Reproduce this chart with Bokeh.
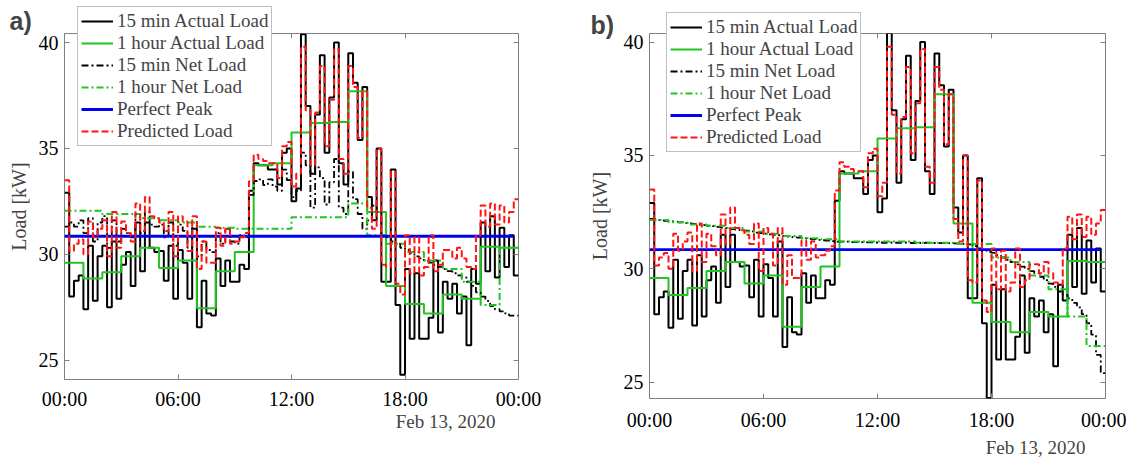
from bokeh.plotting import figure
from bokeh.layouts import row
from bokeh.models import FixedTicker, Label, Legend, LegendItem, LinearAxis, Range1d
from bokeh.embed import file_html
from bokeh.resources import INLINE

# ---------------- data ----------------
x_ticks = [0, 6, 12, 18, 24]
x_tick_labels = ["00:00", "06:00", "12:00", "18:00", "00:00"]
y_ticks = [25, 30, 35, 40]
date_label = "Feb 13, 2020"
legend_labels = ["15 min Actual Load", "1 hour Actual Load", "15 min Net Load",
                 "1 hour Net Load", "Perfect Peak", "Predicted Load"]

actual_15min = [
    32.9, 28.0, 28.75, 29.0,   27.4, 30.4, 27.8, 29.9,   30.4, 27.5, 30.6, 27.9,
    29.5, 30.1, 28.5, 31.5,    29.2, 31.5, 30.3, 30.1,   30.15, 28.75, 30.4, 27.9,
    30.2, 29.6, 27.9, 31.2,    26.55, 28.75, 27.2, 27.1, 29.8, 28.5, 29.7, 28.7,
    28.7, 29.5, 29.3, 33.0,    34.3, 34.2, 34.2, 34.0,   34.0, 33.3, 34.8, 35.0,
    32.5, 33.1, 40.4, 37.0,    33.8, 36.6, 39.4, 34.8,   37.4, 40.0, 34.3, 33.3,
    39.5, 38.1, 35.4, 37.9,    32.7, 31.6, 35.0, 28.7,   28.7, 34.0, 27.6, 24.3,
    29.3, 26.0, 29.1, 26.0,    26.0, 27.0, 29.7, 26.3,   28.7, 27.9, 28.6, 27.2,
    28.0, 25.7, 29.3, 28.6,    31.5, 29.2, 31.8, 28.9,   31.25, 29.4, 30.9, 29.0,
]
actual_1hour = [29.6, 28.85, 29.15, 29.9, 30.3, 29.35, 29.7, 27.45, 29.2, 30.1, 34.2, 34.3,
                35.75, 36.2, 36.25, 37.7, 32.0, 28.5, 27.65, 27.2, 28.1, 27.9, 30.35, 30.3]

predicted_15min = [
    33.5, 30.15, 30.5, 30.7,   30.0, 31.55, 30.8, 31.2,  31.6, 29.9, 32.0, 30.3,
    31.55, 31.0, 30.6, 32.4,   31.1, 32.7, 31.8, 31.7,   31.5, 31.1, 32.0, 29.9,
    31.8, 31.55, 30.15, 31.8,  29.3, 30.6, 29.6, 29.6,   31.25, 30.4, 31.2, 30.5,
    30.6, 30.8, 31.0, 33.45,   34.7, 34.5, 34.4, 34.3,   34.3, 33.6, 35.1, 35.3,
    33.2, 33.8, 39.8, 36.8,    34.2, 36.7, 38.9, 35.1,   37.3, 39.7, 34.5, 33.8,
    38.9, 37.9, 35.5, 37.7,    32.2, 31.2, 35.0, 29.5,   29.4, 33.9, 28.6, 28.1,
    30.9, 29.1, 30.8, 29.0,    29.4, 30.9, 29.2, 29.5,   30.2, 30.2, 29.8, 30.3,
    29.8, 29.4, 29.3, 30.9,    32.3, 31.3, 32.4, 31.4,   32.3, 31.5, 32.0, 32.6,
]
perfect_peak = 30.85

# panel a) net load
net_15min_a = [
    31.3, 31.5, 31.3, 31.6,   31.0, 31.7, 30.6, 31.5,   31.8, 30.3, 31.6, 30.6,
    31.2, 31.0, 30.8, 31.9,   31.0, 32.0, 31.4, 31.3,   31.4, 30.8, 31.5, 30.4,
    31.4, 31.1, 30.3, 31.5,   29.9, 30.6, 30.2, 30.1,   31.0, 30.5, 31.2, 30.6,
    30.5, 30.9, 30.8, 32.8,   33.46, 33.54, 33.27, 33.54, 33.2, 33.0, 34.0, 33.5,
    32.7, 33.0, 34.8, 34.2,   32.2, 34.1, 33.6, 32.35,  33.4, 34.5, 32.2, 31.9,
    33.9, 32.6, 31.9, 31.2,   31.6, 32.3, 32.0, 30.9,   30.8, 30.6, 30.5, 30.3,
    30.2, 30.05, 29.9, 29.8,  29.7, 29.6, 29.5, 29.4,   29.3, 29.2, 29.1, 29.0,
    28.9, 28.7, 28.5, 28.2,   28.0, 27.8, 27.55, 27.4,  27.3, 27.2, 27.1, 27.1,
]
net_1hour_a = [32.05, 32.05, 31.9, 31.9, 31.7, 31.6, 31.5, 31.3, 31.25, 31.2, 31.2, 31.2,
               31.75, 31.75, 31.75, 32.4, 30.9, 30.5, 30.1, 29.7, 29.3, 28.7, 27.6, 30.3]

# panel b) net load
net_15min_b = [
    32.2, 32.18, 32.15, 32.12,  32.1, 32.08, 32.05, 32.02,  32.0, 31.98, 31.95, 31.93,
    31.9, 31.88, 31.85, 31.82,  31.8, 31.75, 31.72, 31.7,   31.68, 31.65, 31.6, 31.58,
    31.55, 31.52, 31.5, 31.48,  31.45, 31.42, 31.4, 31.38,  31.35, 31.33, 31.3, 31.28,
    31.26, 31.25, 31.22, 31.2,  31.2, 31.2, 31.18, 31.18,   31.18, 31.17, 31.17, 31.16,
    31.16, 31.15, 31.16, 31.15, 31.15, 31.16, 31.15, 31.14, 31.15, 31.14, 31.15, 31.14,
    31.14, 31.13, 31.14, 31.13, 31.12, 31.12, 31.1, 31.08,  31.0, 30.9, 30.85, 30.75,
    30.7, 30.6, 30.5, 30.4,     30.3, 30.2, 30.1, 30.0,     29.9, 29.8, 29.65, 29.5,
    29.35, 29.2, 29.0, 28.85,   28.7, 28.5, 28.3, 28.0,     27.6, 27.1, 26.2, 25.4,
]
net_1hour_b = [32.15, 32.05, 31.95, 31.9, 31.8, 31.65, 31.55, 31.45, 31.35, 31.3, 31.2, 31.2,
               31.2, 31.2, 31.15, 31.15, 31.1, 31.1, 30.5, 30.3, 29.7, 29.1, 27.9, 26.6]

# ---------------- style ----------------
BLACK = "#000000"
GREEN = "#22c422"
BLUE = "#0000f0"
RED = "#ff1414"
GRAY = "#808080"
SERIF = "Liberation Serif"
STYLES = [
    dict(line_color=BLACK, line_width=2.0),
    dict(line_color=GREEN, line_width=2.0),
    dict(line_color=BLACK, line_width=1.8, line_dash="7 3 2 3"),
    dict(line_color=GREEN, line_width=2.0, line_dash="7 3 2 3"),
    dict(line_color=BLUE, line_width=2.8),
    dict(line_color=RED, line_width=2.0, line_dash="7 3"),
]


def stairs(vals, dt):
    xs = [i * dt for i in range(len(vals) + 1)]
    ys = list(vals) + [vals[-1]]
    return xs, ys


def make_panel(net15, net1h, yr, fw, fh, bl, br, bt, bb, xstand, ystand):
    p = figure(frame_width=fw, frame_height=fh, min_border_left=bl, min_border_right=br,
               min_border_top=bt, min_border_bottom=bb, x_range=Range1d(0, 24),
               y_range=Range1d(*yr), output_backend="svg", toolbar_location=None,
               background_fill_color="white", border_fill_color="white")
    p.grid.visible = False
    p.outline_line_color = GRAY
    p.outline_line_width = 1

    for ax in (p.xaxis[0], p.yaxis[0]):
        ax.axis_line_color = None
        ax.major_tick_in = 5
        ax.major_tick_out = 0
        ax.minor_tick_in = 0
        ax.minor_tick_out = 0
        ax.major_tick_line_color = GRAY
        ax.major_label_text_font = SERIF
        ax.major_label_text_font_size = "20px"
        ax.major_label_text_color = "black"
    p.xaxis.ticker = FixedTicker(ticks=x_ticks)
    p.xaxis.major_label_overrides = {t: l for t, l in zip(x_ticks, x_tick_labels)}
    p.xaxis.major_label_standoff = xstand
    p.yaxis.ticker = FixedTicker(ticks=y_ticks)
    p.yaxis.major_label_standoff = 6
    p.yaxis.axis_label = "Load [kW]"
    p.yaxis.axis_label_text_font = SERIF
    p.yaxis.axis_label_text_font_size = "20px"
    p.yaxis.axis_label_text_font_style = "normal"
    p.yaxis.axis_label_standoff = ystand

    for loc, tk in (("right", y_ticks), ("above", x_ticks)):
        ax = LinearAxis(ticker=FixedTicker(ticks=tk), axis_line_color=None,
                        major_tick_in=5, major_tick_out=0, minor_tick_in=0, minor_tick_out=0,
                        major_tick_line_color=GRAY, major_label_standoff=0,
                        major_label_overrides={t: "" for t in tk},
                        major_label_text_font_size="1px")
        p.add_layout(ax, loc)

    series = [stairs(actual_15min, 0.25), stairs(actual_1hour, 1.0),
              stairs(net15, 0.25), stairs(net1h, 1.0)]
    for (xs, ys), st in zip(series, STYLES[:4]):
        p.step(xs, ys, mode="after", **st)
    t15 = [i * 0.25 for i in range(len(actual_15min))]
    p.line([t15[0], t15[-1]], [perfect_peak, perfect_peak], **STYLES[4])
    xp, yp = stairs(predicted_15min, 0.25)
    p.step(xp, yp, mode="after", **STYLES[5])
    return p


# page geometry (pixels)
W, H = 1126, 458
pa = make_panel(net_15min_a, net_1hour_a, (24.08, 40.43), 454, 346, 64, 60, 31, 60, 8, 6)
pb = make_panel(net_15min_b, net_1hour_b, (24.28, 40.38), 456, 365, 71, 21, 33, 60, 10, 10)

# transparent overlay (separate root, absolutely positioned at the page origin)
ov = figure(title=None, frame_width=W, frame_height=H, min_border=0,
            x_range=Range1d(0, W), y_range=Range1d(H, 0),
            x_axis_location=None, y_axis_location=None,
            output_backend="svg", toolbar_location=None,
            background_fill_color=None, border_fill_color=None, outline_line_color=None,
            styles={"position": "absolute", "left": "0px", "top": "0px", "z-index": "10"})
ov.grid.visible = False

for txt, x, y in (("a)", 9, 20), ("b)", 590, 24)):
    ov.add_layout(Label(x=x, y=y, text=txt, text_font="Liberation Sans",
                        text_font_style="bold", text_font_size="25px",
                        text_baseline="middle", text_align="left"))
for x, y in ((445, 421), (1035, 447)):
    ov.add_layout(Label(x=x, y=y, text=date_label, text_font=SERIF, text_font_size="19px",
                        text_baseline="middle", text_align="center"))

nan = float("nan")
dummies = [ov.line([nan], [nan], **st) for st in STYLES]
for left, bottom in ((77, 146), (666, 152)):
    items = [LegendItem(label=lab, renderers=[r]) for lab, r in zip(legend_labels, dummies)]
    ov.add_layout(Legend(items=items, location=(left, H - bottom), label_text_font=SERIF,
                         label_text_font_size="19px", label_height=22, glyph_height=22,
                         glyph_width=32, label_standoff=4, spacing=0, padding=3, margin=0,
                         border_line_color=GRAY, border_line_width=1,
                         background_fill_color="white", background_fill_alpha=1.0))

layout = row(pa, pb)
open("out.html", "w").write(file_html([layout, ov], INLINE))
